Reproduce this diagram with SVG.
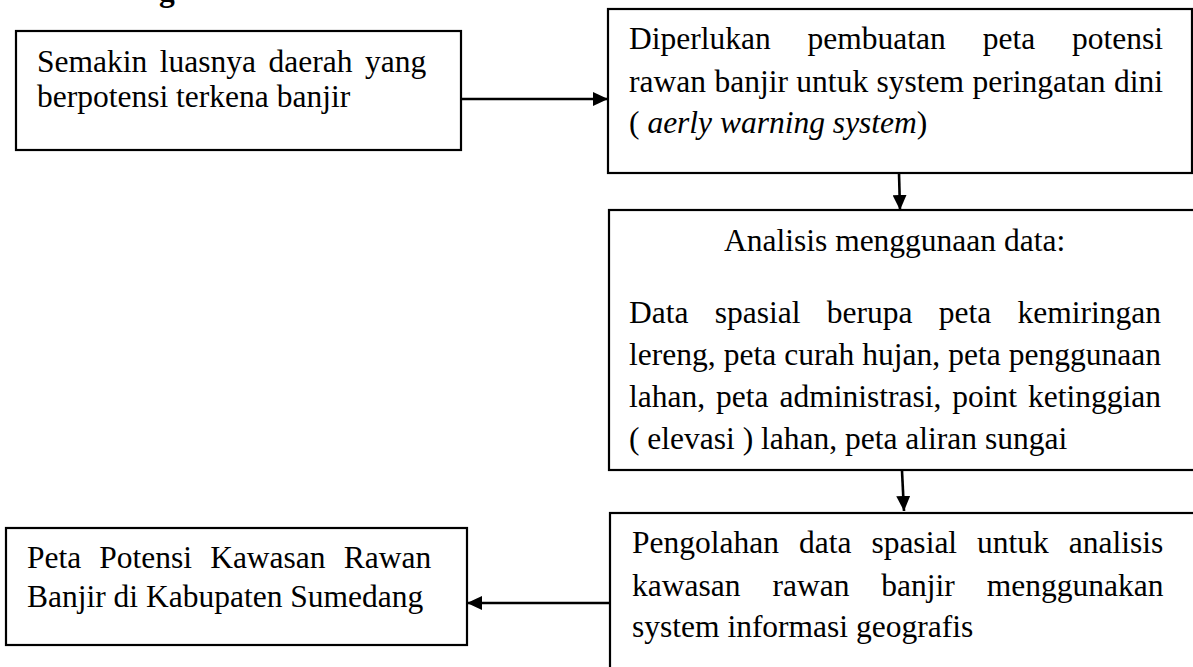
<svg xmlns="http://www.w3.org/2000/svg" width="1193" height="667" viewBox="0 0 1193 667">
<style>
  .box { fill: #ffffff; stroke: #000000; stroke-width: 2.2; }
  .t { font-family: "Liberation Serif", "Times New Roman", serif; font-size: 31.5px; fill: #000000; }
  .conn { stroke: #000000; stroke-width: 2.6; fill: none; marker-end: url(#arrow); }
</style>
<defs>
  <marker id="arrow" viewBox="0 0 15 14" markerWidth="15" markerHeight="14" refX="15" refY="7" orient="auto" markerUnits="userSpaceOnUse">
    <path d="M0,0 L15,7 L0,14 z" fill="#000000"/>
  </marker>
</defs>
<rect width="1193" height="667" fill="#ffffff"/>
<text class="t" x="159" y="1" font-weight="bold">g</text>

<g id="node-luas">
  <rect class="box" x="16" y="31" width="445" height="119"/>
  <text class="t" x="37" y="72" word-spacing="4.7">Semakin luasnya daerah yang</text>
  <text class="t" x="37" y="107">berpotensi terkena banjir</text>
</g>

<g id="node-diperlukan">
  <rect class="box" x="608" y="9" width="584" height="164"/>
  <text class="t" x="629" y="49" word-spacing="29">Diperlukan pembuatan peta potensi</text>
  <text class="t" x="629" y="91.5" word-spacing="0.6">rawan banjir untuk system peringatan dini</text>
  <text class="t" x="629" y="133">( <tspan font-style="italic">aerly warning system</tspan>)</text>
</g>

<g id="node-analisis">
  <rect class="box" x="609" y="210" width="600" height="260"/>
  <text class="t" x="724" y="251">Analisis menggunaan data:</text>
  <text class="t" x="629" y="323" word-spacing="18.4">Data spasial berupa peta kemiringan</text>
  <text class="t" x="629" y="365" word-spacing="0.2">lereng, peta curah hujan, peta penggunaan</text>
  <text class="t" x="629" y="407" word-spacing="3.1">lahan, peta administrasi, point ketinggian</text>
  <text class="t" x="629" y="449">( elevasi ) lahan, peta aliran sungai</text>
</g>

<g id="node-pengolahan">
  <rect class="box" x="610" y="513" width="600" height="170"/>
  <text class="t" x="632" y="553" word-spacing="12.1">Pengolahan data spasial untuk analisis</text>
  <text class="t" x="632" y="596" word-spacing="24.1">kawasan rawan banjir menggunakan</text>
  <text class="t" x="632" y="637">system informasi geografis</text>
</g>

<g id="node-peta">
  <rect class="box" x="6" y="528" width="461" height="117"/>
  <text class="t" x="27" y="568" word-spacing="10.2">Peta Potensi Kawasan Rawan</text>
  <text class="t" x="27" y="607">Banjir di Kabupaten Sumedang</text>
</g>

<g id="connectors">
  <line class="conn" x1="461" y1="99" x2="608" y2="99"/>
  <line class="conn" x1="899" y1="173" x2="900" y2="210"/>
  <line class="conn" x1="902" y1="471" x2="904" y2="511"/>
  <line class="conn" x1="610" y1="603" x2="467" y2="603"/>
</g>
</svg>
